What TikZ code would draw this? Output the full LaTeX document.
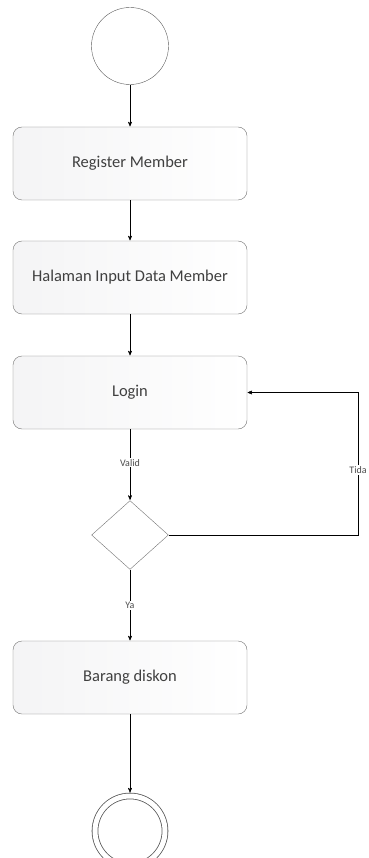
\documentclass[tikz,border=0pt]{standalone}
\usepackage{fontspec}
\setmainfont{Carlito}
\usetikzlibrary{arrows,positioning,shapes.geometric}

\begin{document}
\begin{tikzpicture}[x=1pt,y=-1pt]
	% sizes are taken in pixels of the original picture
	\tikzset{
	        ->,  % every edge is directed
	        >=stealth', % small filled heads
	        line width=0.8pt,
	        draw=black!70,
	        every node/.style={draw=none},
	        startnode/.style={circle, draw=black!65, fill=white, minimum size=77pt, inner sep=0pt},
	        endnode/.style={circle, draw=black!65, double=white, double distance=5pt, fill=white, minimum size=70pt, inner sep=0pt, outer sep=3.3pt},
	        activity/.style={rectangle, rounded corners=9pt, draw=black!55, left color=blue!6!gray!8, right color=white,
	                         minimum width=234pt, minimum height=73pt, font=\fontsize{16.5}{18}\selectfont, text=black!75},
	        decision/.style={diamond, draw=black!55, fill=white, minimum width=77pt, minimum height=69pt, inner sep=0pt},
	        guard/.style={fill=white, inner sep=1pt, font=\fontsize{10}{11}\selectfont, text=black!70},
	}
	\useasboundingbox (0,0) rectangle (368,858);
	% the states are placed one below the other
	\node[startnode] (start) at (130,46) {};
	\node[activity, below of=start, node distance=117.5pt] (register) {Register Member};
	\node[activity, below of=register, node distance=114pt] (input) {Halaman Input Data Member};
	\node[activity, below of=input, node distance=115pt] (login) {Login};
	\node[decision, below of=login, node distance=142.5pt] (cek) {};
	\node[activity, below of=cek, node distance=142.5pt] (diskon) {Barang diskon};
	\node[endnode, below of=diskon, node distance=153.5pt] (finish) {};
	\coordinate (ulang) at (358,392.5);
	% the edges
	\draw (start) -- (register);
	\draw (register) -- (input);
	\draw (input) -- (login);
	\draw (login) -- node[guard, pos=0.47] {Valid} (cek);
	\draw (cek) -- node[guard, pos=0.5] {Ya} (diskon);
	\draw (diskon) -- (finish);
	\draw (cek.east) -| (ulang) -- (login.east);
	\node[guard] (tida) at (358,470) {Tida};
\end{tikzpicture}
\end{document}
